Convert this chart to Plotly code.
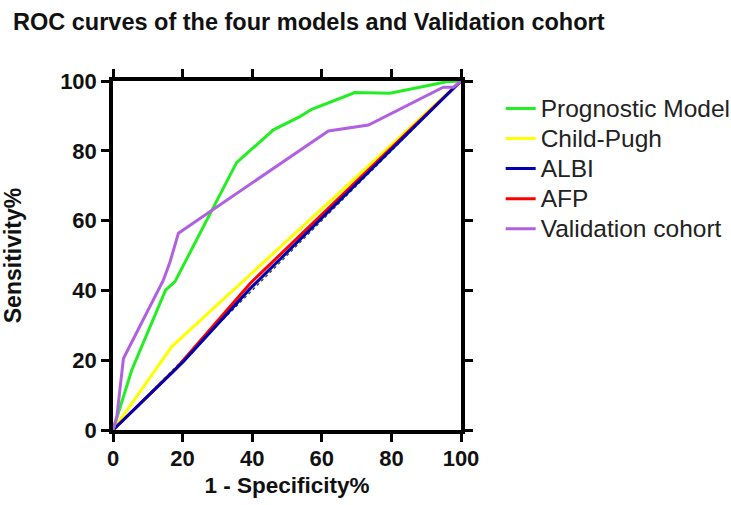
import plotly.graph_objects as go

# Data
prog_x = [0, 5.4, 15.1, 17.8, 35.5, 46.1, 53.7, 57.1, 69.5, 79.6, 95.9, 100]
prog_y = [0, 17.2, 40.1, 42.5, 76.6, 86.0, 89.8, 91.9, 96.7, 96.5, 99.8, 100]

cp_x = [0, 16.9, 100]
cp_y = [0, 23.9, 100]

albi_x = [0, 20.2, 39.4, 100]
albi_y = [0, 19.6, 40.5, 100]

afp_x = [0, 18.0, 39.4, 100]
afp_y = [0, 17.5, 42.0, 100]

val_x = [0, 1.1, 3.0, 14.5, 16.4, 18.8, 61.9, 73.4, 94.9, 97.8, 100]
val_y = [0, 3.8, 20.5, 43.0, 48.2, 56.4, 85.7, 87.4, 98.2, 98.2, 100]

ref_x = [0, 100]
ref_y = [0, 100]

ticks = [0, 20, 40, 60, 80, 100]

FONT = "Liberation Sans, Arial, sans-serif"

def leg(name):
    return '<span style="font-size:24.5px">' + name + '</span>'

fig = go.Figure()
fig.add_trace(go.Scatter(x=ref_x, y=ref_y, mode="lines", showlegend=False,
                         line=dict(color="#333333", width=1.2, dash="dot"), hoverinfo="skip"))
fig.add_trace(go.Scatter(x=cp_x, y=cp_y, mode="lines", name=leg("Child-Pugh"), legendrank=2,
                         line=dict(color="#ffff00", width=3)))
fig.add_trace(go.Scatter(x=afp_x, y=afp_y, mode="lines", name=leg("AFP"), legendrank=4,
                         line=dict(color="#ff0000", width=3)))
fig.add_trace(go.Scatter(x=albi_x, y=albi_y, mode="lines", name=leg("ALBI"), legendrank=3,
                         line=dict(color="#0000b0", width=3)))
fig.add_trace(go.Scatter(x=prog_x, y=prog_y, mode="lines", name=leg("Prognostic Model"), legendrank=1,
                         line=dict(color="#22ee22", width=3)))
fig.add_trace(go.Scatter(x=val_x, y=val_y, mode="lines", name=leg("Validation cohort"), legendrank=5,
                         line=dict(color="#b060e0", width=3)))

axis_common = dict(
    range=[0, 100], tickvals=ticks, ticktext=[str(t) for t in ticks],
    showgrid=False, zeroline=False, showline=True, linecolor="black", linewidth=3.5,
    mirror="ticks", ticks="outside", ticklen=8, tickwidth=3, tickcolor="black",
    tickfont=dict(family=FONT, size=22, color="#111111", weight="bold"),
    automargin=False,
)

fig.update_layout(
    width=731, height=505,
    margin=dict(l=113, r=270, t=81, b=75, autoexpand=False),
    paper_bgcolor="white", plot_bgcolor="white",
    title=dict(text="<b>ROC curves of the four models and Validation cohort</b>",
               x=0.0178, xanchor="left", xref="container",
               y=0.974, yanchor="top", yref="container",
               font=dict(family=FONT, size=23.5, color="#111111")),
    xaxis=dict(**axis_common, ticklabelstandoff=-2,
               title=dict(text="<b>1 - Specificity%</b>", standoff=8,
                          font=dict(family=FONT, size=22.5, color="#111111"))),
    yaxis=dict(**axis_common,
               title=dict(text="<b>Sensitivity%</b>", standoff=38,
                          font=dict(family=FONT, size=23, color="#111111"))),
    legend=dict(x=1.114, xanchor="left", y=0.9785, yanchor="top",
                font=dict(family=FONT, size=20.8, color="#222222"),
                bgcolor="rgba(0,0,0,0)", tracegroupgap=0),
    showlegend=True,
)

# Remove the default page margin so the figure fills the window exactly.
fig.write_html("out.html",
               config={"displayModeBar": False},
               post_script="document.body.style.margin='0';document.body.style.overflow='hidden';")
